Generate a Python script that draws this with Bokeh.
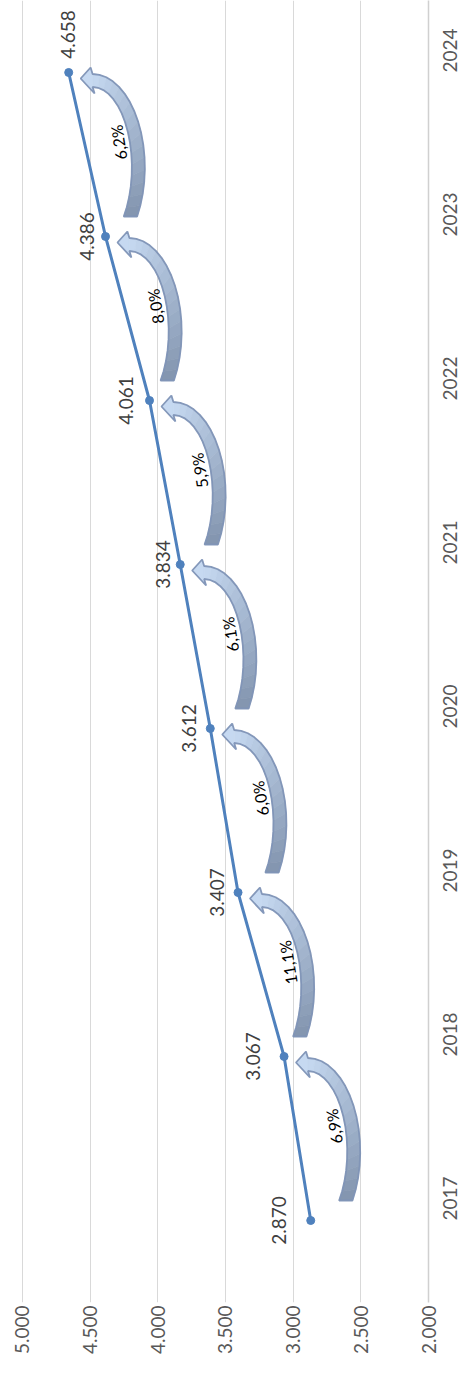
import math
import numpy as np
from bokeh.plotting import figure
from bokeh.models import Range1d, FixedTicker
from bokeh.core.properties import value
from bokeh.embed import file_html
from bokeh.resources import INLINE

# ---------------- data ----------------
years = [2017, 2018, 2019, 2020, 2021, 2022, 2023, 2024]
year_labels = ["2017", "2018", "2019", "2020", "2021", "2022", "2023", "2024"]
values = [2870, 3067, 3407, 3612, 3834, 4061, 4386, 4658]
value_labels = ["2.870", "3.067", "3.407", "3.612", "3.834", "4.061", "4.386", "4.658"]
growth_labels = ["6,9%", "11,1%", "6,0%", "6,1%", "5,9%", "8,0%", "6,2%"]
value_ticks = [2000, 2500, 3000, 3500, 4000, 4500, 5000]
value_tick_labels = ["2.000", "2.500", "3.000", "3.500", "4.000", "4.500", "5.000"]

# ---------------- layout / style ----------------
FONT = "Lato"
W, H = 467, 1384
FW, FH = 430, 1302          # frame size in px
X_START, X_END = 5161.8, 2000.0
Y_START, Y_END = 2016.5, 2024.439
ux = (X_START - X_END) / FW  # value units per px (to the right = smaller value)
uy = (Y_END - Y_START) / FH  # years per px (downwards = earlier year)

LINE_COLOR = "#4f81bd"
HEAD_COLOR = np.array([0xc6, 0xd9, 0xf1])
TAIL_COLOR = np.array([0x82, 0x94, 0xae])
OUTLINE = "#7f94b6"

p = figure(width=W, height=H, output_backend="svg", toolbar_location=None,
           x_range=Range1d(X_START, X_END), y_range=Range1d(Y_START, Y_END),
           x_axis_location="below", y_axis_location="right",
           min_border_left=0, min_border_top=0, min_border_right=W - FW,
           min_border_bottom=H - FH, outline_line_color=None,
           background_fill_color="white", border_fill_color="white")

# grid
p.xgrid.ticker = FixedTicker(ticks=value_ticks)
p.xgrid.grid_line_color = "#d9d9d9"
p.xgrid.grid_line_width = 1
p.ygrid.visible = False

# value axis (bottom)
xa = p.xaxis[0]
xa.ticker = FixedTicker(ticks=value_ticks)
xa.major_label_overrides = {t: s for t, s in zip(value_ticks, value_tick_labels)}
xa.major_label_orientation = math.pi / 2
xa.axis_line_color = None
xa.major_tick_line_color = None
xa.minor_tick_line_color = None
xa.major_tick_out = 0
xa.major_label_standoff = 3
xa.major_label_text_font = FONT
xa.major_label_text_font_size = "19px"
xa.major_label_text_color = "#595959"

# year axis (right)
ya = p.yaxis[0]
ya.ticker = FixedTicker(ticks=years)
ya.major_label_overrides = {t: s for t, s in zip(years, year_labels)}
ya.major_label_orientation = math.pi / 2
ya.axis_line_color = "#d0d0d0"
ya.axis_line_width = 1.5
ya.major_tick_line_color = None
ya.minor_tick_line_color = None
ya.major_tick_out = 0
ya.major_label_standoff = 22
ya.major_label_text_font = FONT
ya.major_label_text_font_size = "19px"
ya.major_label_text_color = "#595959"


def to_data(tv, ty, dx, dy):
    return tv - dx * ux, ty - dy * uy


# ---------------- curved arrows ----------------
seg_xs, seg_ys, seg_cols = [], [], []
out_xs, out_ys = [], []
pct_x, pct_y = [], []
cx, cy, a, b, w = 24.0, 95.0, 46.0, 87.0, 6.5
tail_dy = 144.0
N = 16
head_tip, head_up, head_low = (12.0, 6.0), (22.0, -5.0), (26.0, 21.0)


def edge(aa, bb):
    phi_end = -math.asin((tail_dy - cy) / bb)
    phis = np.linspace(math.pi / 2, phi_end, N + 1)
    return [(cx + aa * math.cos(f), cy - bb * math.sin(f)) for f in phis]


def hexcol(c):
    return "#%02x%02x%02x" % tuple(int(round(v)) for v in c)


for i in range(len(years) - 1):
    tv, ty = values[i + 1], years[i + 1]
    outer = edge(a + w, b + w)
    inner = edge(a - w, b - w)
    hp = [head_tip, head_up, outer[0], inner[0], head_low]
    d = [to_data(tv, ty, px, py) for px, py in hp]
    seg_xs.append([q[0] for q in d]); seg_ys.append([q[1] for q in d])
    seg_cols.append(hexcol(HEAD_COLOR))
    for k in range(N):
        quad = [outer[k], outer[k + 1], inner[k + 1], inner[k]]
        d = [to_data(tv, ty, px, py) for px, py in quad]
        seg_xs.append([q[0] for q in d]); seg_ys.append([q[1] for q in d])
        t = (k + 0.5) / N
        seg_cols.append(hexcol(HEAD_COLOR + (TAIL_COLOR - HEAD_COLOR) * t))
    ol = [head_tip, head_up] + outer + inner[::-1] + [head_low]
    d = [to_data(tv, ty, px, py) for px, py in ol]
    out_xs.append([q[0] for q in d]); out_ys.append([q[1] for q in d])
    px_, py_ = to_data(tv, ty, 50, 70)
    pct_x.append(px_); pct_y.append(py_)

p.patches(xs=seg_xs, ys=seg_ys, fill_color=seg_cols, line_color=seg_cols,
          line_width=0.6)
p.patches(xs=out_xs, ys=out_ys, fill_color=None, line_color=OUTLINE,
          line_width=1.8, line_alpha=0.95)

p.text(x=pct_x, y=pct_y, text=growth_labels, angle=math.radians(99),
       text_align="center", text_baseline="middle",
       text_font=value(FONT), text_font_size="16px", text_color="black")

# ---------------- line + markers ----------------
p.line(x=values, y=years, line_color=LINE_COLOR, line_width=3)
p.scatter(x=values, y=years, size=8, fill_color=LINE_COLOR, line_color=LINE_COLOR)

# ---------------- data labels ----------------
label_dx = [-32, -31, -21, -21, -17, -24, -19, -1]
label_dy = [0, 0, 0, 0, 0, 0, 0, -38]
lx, ly = [], []
for v, y, dx, dy in zip(values, years, label_dx, label_dy):
    X, Y = to_data(v, y, dx, dy)
    lx.append(X); ly.append(Y)
p.text(x=lx, y=ly, text=value_labels, angle=math.pi / 2,
       text_align="center", text_baseline="middle",
       text_font=value(FONT), text_font_size="19px", text_color="#404040")

open("out.html", "w").write(file_html(p, INLINE))
